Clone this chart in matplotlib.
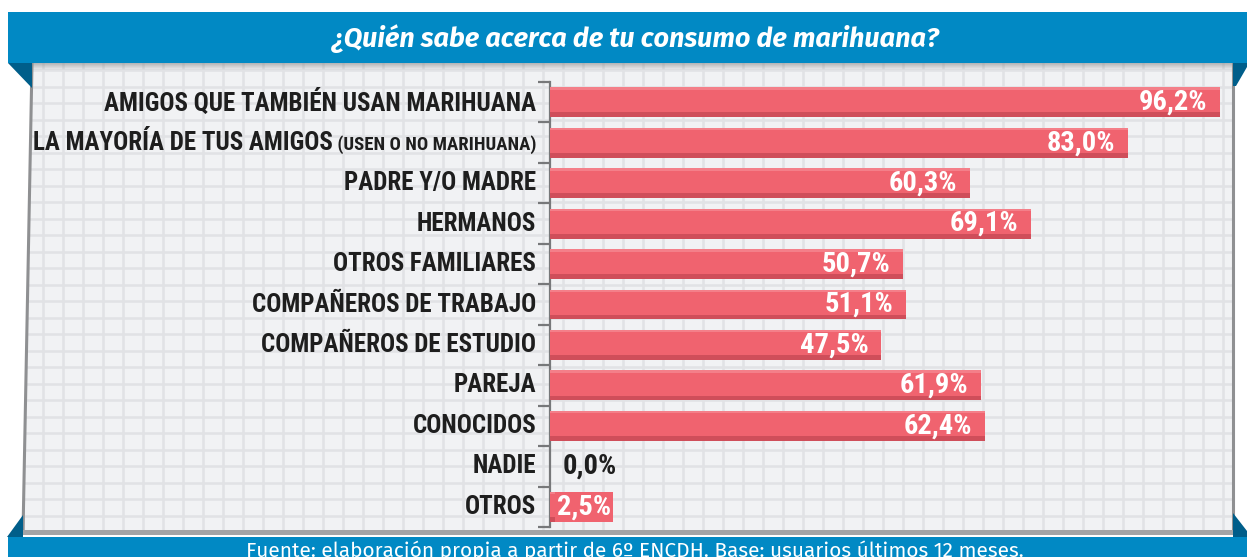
import matplotlib
matplotlib.use("Agg")
import matplotlib.pyplot as plt
from matplotlib import font_manager as fm
from matplotlib.patches import Rectangle, Polygon
from matplotlib.offsetbox import TextArea, HPacker, AnnotationBbox
import numpy as np

# data
categories = [
    "AMIGOS QUE TAMBIÉN USAN MARIHUANA",
    "LA MAYORÍA DE TUS AMIGOS",
    "PADRE Y/O MADRE",
    "HERMANOS",
    "OTROS FAMILIARES",
    "COMPAÑEROS DE TRABAJO",
    "COMPAÑEROS DE ESTUDIO",
    "PAREJA",
    "CONOCIDOS",
    "NADIE",
    "OTROS",
]
category_notes = ["", " (USEN O NO MARIHUANA)", "", "", "", "", "", "", "", "", ""]
values = [96.2, 83.0, 60.3, 69.1, 50.7, 51.1, 47.5, 61.9, 62.4, 0.0, 2.5]

title = "¿Quién sabe acerca de tu consumo de marihuana?"
source = "Fuente: elaboración propia a partir de 6º ENCDH. Base: usuarios últimos 12 meses."


def pick_font(candidates):
    installed = {f.name for f in fm.fontManager.ttflist}
    for c in candidates:
        if c in installed:
            return [c, "DejaVu Sans"]
    return ["DejaVu Sans"]


NARROW = pick_font(["Roboto Condensed", "Barlow Semi Condensed", "Fira Sans Condensed",
                    "Open Sans Condensed"])
HEAD = pick_font(["Fira Sans", "Ubuntu", "Open Sans"])

W, H = 1247, 557
BLUE = "#0189C4"
DARK_BLUE = "#005E8A"
BAR = "#F0636F"
BAR_DARK = "#CF4E5A"
BAR_LIGHT = "#F47F89"
INK = "#1E1E1E"

fig = plt.figure(figsize=(W / 100, H / 100), dpi=100)
fig.patch.set_facecolor("white")

# background layer in pixel coordinates
bg = fig.add_axes([0, 0, 1, 1])
bg.set_xlim(0, W)
bg.set_ylim(H, 0)
bg.axis("off")

panel = Polygon([(32, 63), (1233, 63), (1233, 533), (23, 533)], closed=True,
                facecolor="#F1F2F4", edgecolor="none", zorder=1)
bg.add_patch(panel)

for gx in np.arange(3, 1240, 20):
    ln, = bg.plot([gx, gx], [63, 533], color="#E1E2E5", lw=1.8, zorder=2)
    ln.set_clip_path(panel)
for gy in np.arange(70, 533, 16.5):
    ln, = bg.plot([0, 1240], [gy, gy], color="#E1E2E5", lw=1.8, zorder=2)
    ln.set_clip_path(panel)

# panel borders and top shadow
bg.plot([32, 23], [63, 533], color="#8F9092", lw=2.2, zorder=3)
bg.plot([1233, 1233], [63, 533], color="#8F9092", lw=2.2, zorder=3)
bg.add_patch(Rectangle((23, 530), 1210, 5, facecolor="#A3A4A6", edgecolor="none", zorder=3))
for k in range(7):
    bg.add_patch(Rectangle((32, 63 + k), 1201, 1, facecolor="#8F9092",
                           alpha=0.6 * (1 - k / 7), edgecolor="none", zorder=3))

# banners
bg.add_patch(Rectangle((8, 12), W - 8, 51, facecolor=BLUE, edgecolor="none", zorder=4))
bg.add_patch(Rectangle((8, 537), W - 8, 25, facecolor=BLUE, edgecolor="none", zorder=4))
bg.add_patch(Polygon([(8, 63), (32, 63), (32, 88)], facecolor=DARK_BLUE, edgecolor="none", zorder=4))
bg.add_patch(Polygon([(1233, 63), (W, 63), (W, 67), (1236, 86), (1233, 86)],
                     facecolor=DARK_BLUE, edgecolor="none", zorder=4))
bg.add_patch(Polygon([(7, 537), (23, 537), (23, 515)], facecolor=DARK_BLUE, edgecolor="none", zorder=4))
bg.add_patch(Polygon([(1233, 513), (W, 531), (W, 537), (1233, 537)],
                     facecolor=DARK_BLUE, edgecolor="none", zorder=4))

bg.text(636, 39, title, color="white", fontsize=19.5, fontweight="bold", style="italic",
        family=HEAD, ha="center", va="center", zorder=5)
bg.text(635, 557, source, color="white", fontsize=15, family=HEAD,
        ha="center", va="baseline", zorder=5)

# chart axes
ax_l, ax_r, ax_t, ax_b = 550, 1233, 82, 527
x_max = 98.07
ax = fig.add_axes([ax_l / W, 1 - ax_b / H, (ax_r - ax_l) / W, (ax_b - ax_t) / H])
ax.patch.set_alpha(0)
y = np.arange(len(categories))
ax.set_ylim(len(categories) - 0.5, -0.5)
ax.set_xlim(0, x_max)

bar_h = 0.74
ax.barh(y, values, height=bar_h, color=BAR, zorder=3)
ax.barh(y + bar_h / 2 - 0.06, values, height=0.12, color=BAR_DARK, zorder=4)
ax.barh(y - bar_h / 2 + 0.03, values, height=0.06, color=BAR_LIGHT, zorder=4)

for s in ["top", "right", "bottom"]:
    ax.spines[s].set_visible(False)
ax.spines["left"].set_color("#77787A")
ax.spines["left"].set_linewidth(1.6)
ax.set_xticks([])
ax.set_yticks([])
ax.set_yticks(np.arange(-0.5, len(categories)), minor=True)
ax.tick_params(axis="y", which="minor", length=8.5, width=1.6, color="#77787A", direction="out")
ax.set_yticklabels([], minor=True)

# category labels (with smaller note when present)
for i, (cat, note) in enumerate(zip(categories, category_notes)):
    parts = [TextArea(cat, textprops=dict(family=NARROW, fontweight="bold",
                                          fontsize=18, color=INK))]
    if note:
        parts.append(TextArea(note, textprops=dict(family=NARROW, fontweight="bold",
                                                   fontsize=13.5, color=INK)))
    box = HPacker(children=parts, align="baseline", pad=0, sep=0)
    ab = AnnotationBbox(box, (0, i), xycoords=("axes fraction", "data"),
                        xybox=(-10, 0), boxcoords="offset points",
                        box_alignment=(1, 0.5), frameon=False, annotation_clip=False)
    ax.add_artist(ab)

# value labels
px_per_unit = (ax_r - ax_l) / x_max
for i, v in enumerate(values):
    txt = f"{v:.1f}".replace(".", ",") + "%"
    style = dict(ha="left", va="center", family=NARROW, fontweight="bold", fontsize=20.5, zorder=5)
    if v == 0:
        ax.annotate(txt, (0, i), xytext=(9, 0), textcoords="offset points", color=INK, **style)
    elif v * px_per_unit < 90:
        ax.annotate(txt, (0, i), xytext=(5, 0), textcoords="offset points", color="white",
                    bbox=dict(boxstyle="square,pad=0.06", facecolor=BAR, edgecolor="none"),
                    **style)
    else:
        style["ha"] = "right"
        ax.annotate(txt, (v, i), xytext=(-9, 0), textcoords="offset points", color="white",
                    **style)

fig.savefig("out.png", dpi=100)
